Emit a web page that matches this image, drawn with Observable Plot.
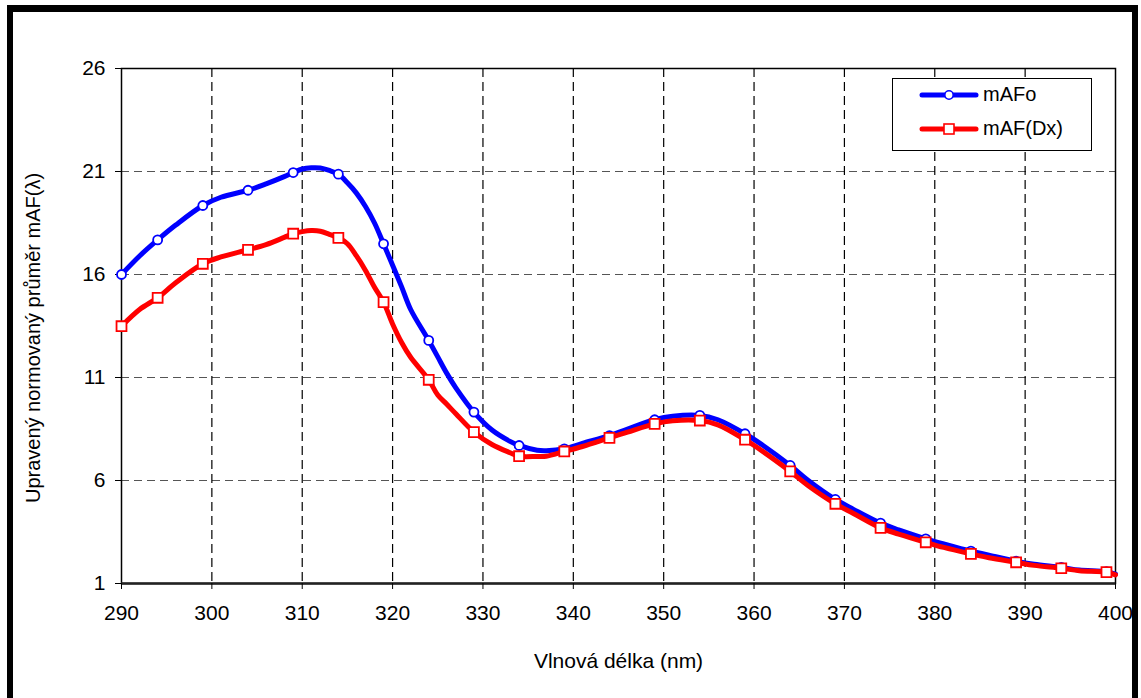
<!DOCTYPE html>
<html><head><meta charset="utf-8">
<script src="https://cdn.jsdelivr.net/npm/d3@7"></script>
<script src="https://cdn.jsdelivr.net/npm/@observablehq/plot@0.6"></script>
<style>
body{margin:0;background:#fff;font-family:"Liberation Sans",Arial,sans-serif;}
#wrap{position:relative;width:1141px;height:698px;overflow:hidden;}
#frame{position:absolute;left:7px;top:5px;width:1119px;height:686px;border-left:6px solid #000;border-top:7px solid #000;border-right:6px solid #000;border-bottom:1px solid #aaa;box-sizing:content-box;pointer-events:none;}
#legend{position:absolute;left:892px;top:78px;width:198px;height:71px;border:1px solid #000;background:#fff;font-size:20px;}
.row{position:absolute;left:26px;display:flex;align-items:center;}
.row span{margin-left:4px;}
</style></head><body>
<div id="wrap"></div>
<script>
const seriesNames = ["mAFo", "mAF(Dx)"];
const wavelengths = [290,292,294,296,299,301,304,306,308,309,310,311,312,313,314,315,316,317,318,319,320,321,322,324,325,326,327,329,331,333,334,336,337,339,341,344,346,349,351,354,356,359,361,364,366,369,371,374,376,379,381,384,386,389,391,394,396,399,400];
const mAFo = [16.0,16.9,17.68,18.4,19.35,19.75,20.09,20.4,20.75,20.95,21.12,21.18,21.17,21.05,20.87,20.45,19.95,19.3,18.5,17.49,16.45,15.4,14.3,12.8,12.0,11.2,10.5,9.32,8.45,7.9,7.70,7.47,7.45,7.54,7.8,8.18,8.5,8.95,9.12,9.16,8.95,8.27,7.7,6.73,6.0,5.08,4.6,3.93,3.6,3.17,2.92,2.57,2.38,2.08,1.93,1.78,1.65,1.57,1.45];
const mAFDx = [13.49,14.3,14.87,15.6,16.52,16.85,17.2,17.45,17.8,17.98,18.08,18.13,18.1,17.95,17.78,17.49,16.9,16.2,15.38,14.66,13.6,12.7,11.98,10.89,10.15,9.7,9.24,8.35,7.75,7.35,7.18,7.17,7.18,7.41,7.65,8.07,8.35,8.75,8.9,8.91,8.7,7.98,7.4,6.44,5.75,4.87,4.4,3.70,3.4,3.00,2.75,2.44,2.25,2.03,1.88,1.74,1.62,1.55,1.42];
const markerWavelengths = [290,294,299,304,309,314,319,324,329,334,339,344,349,354,359,364,369,374,379,384,389,394,399];
const xTicks = [290,300,310,320,330,340,350,360,370,380,390,400];
const yTicks = [1,6,11,16,21,26];
const xTitle = "Vlnová délka (nm)";
const yTitle = "Upravený normovaný průměr mAF(λ)";

const blue = wavelengths.map((w,i)=>({w, v:mAFo[i]}));
const red = wavelengths.map((w,i)=>({w, v:mAFDx[i]}));
const blueM = blue.filter(d=>markerWavelengths.includes(d.w));
const redM = red.filter(d=>markerWavelengths.includes(d.w));

const chart = Plot.plot({
  width:1141, height:698,
  marginLeft:121, marginRight:26, marginTop:68, marginBottom:115,
  style:{fontFamily:'"Liberation Sans",Arial,sans-serif', fontSize:"21px", color:"#000", background:"transparent"},
  x:{domain:[290,400]},
  y:{domain:[1,26]},
  marks:[
    Plot.gridY(yTicks.slice(1,-1), {stroke:"#555", strokeOpacity:1, strokeWidth:1.2, strokeDasharray:"8,5"}),
    Plot.gridX(xTicks.slice(1,-1), {stroke:"#000", strokeOpacity:1, strokeWidth:1.2, strokeDasharray:"9,5"}),
    Plot.frame({stroke:"#000", strokeWidth:1.5}),
    Plot.ruleY([1], {stroke:"#222", strokeWidth:2.5}),
    Plot.axisX({ticks:xTicks, tickSize:6, tickPadding:16, tickFormat:d=>String(d), fontSize:21,
      label:xTitle, labelAnchor:"center", labelOffset:84, labelArrow:"none"}),
    Plot.axisY({ticks:yTicks, tickSize:6, tickPadding:10, tickFormat:d=>String(d), fontSize:21, label:null}),
    Plot.text([yTitle], {frameAnchor:"left", textAnchor:"middle", lineAnchor:"middle", dx:-88, dy:12, rotate:-90, fontSize:20, fill:"#000"}),
    Plot.lineY(blue, {x:"w", y:"v", stroke:"#0000ff", strokeWidth:5, curve:"catmull-rom"}),
    Plot.dot(blueM, {x:"w", y:"v", r:4.5, fill:"#fff", stroke:"#0000ff", strokeWidth:1.8}),
    Plot.lineY(red, {x:"w", y:"v", stroke:"#ff0000", strokeWidth:5, curve:"catmull-rom"}),
    Plot.dot(redM, {x:"w", y:"v", symbol:"square", r:5.6, fill:"#fff", stroke:"#ff0000", strokeWidth:1.8})
  ]
});
const wrap = document.getElementById("wrap");
wrap.appendChild(chart);
const frame = document.createElement("div"); frame.id="frame"; wrap.appendChild(frame);

const legend = document.createElement("div"); legend.id="legend";
const sw = (color, sym) => `<svg width="60" height="12"><line x1="3" y1="6" x2="57" y2="6" stroke="${color}" stroke-width="5" stroke-linecap="round"/>${sym}</svg>`;
legend.innerHTML =
  `<div class="row" style="top:4px">${sw("#0000ff",'<circle cx="30" cy="6" r="4.2" fill="#fff" stroke="#0000ff" stroke-width="1.6"/>')}<span>${seriesNames[0]}</span></div>`+
  `<div class="row" style="top:38px">${sw("#ff0000",'<rect x="25" y="1" width="10" height="10" fill="#fff" stroke="#ff0000" stroke-width="1.6"/>')}<span>${seriesNames[1]}</span></div>`;
wrap.appendChild(legend);
</script>
</body></html>
